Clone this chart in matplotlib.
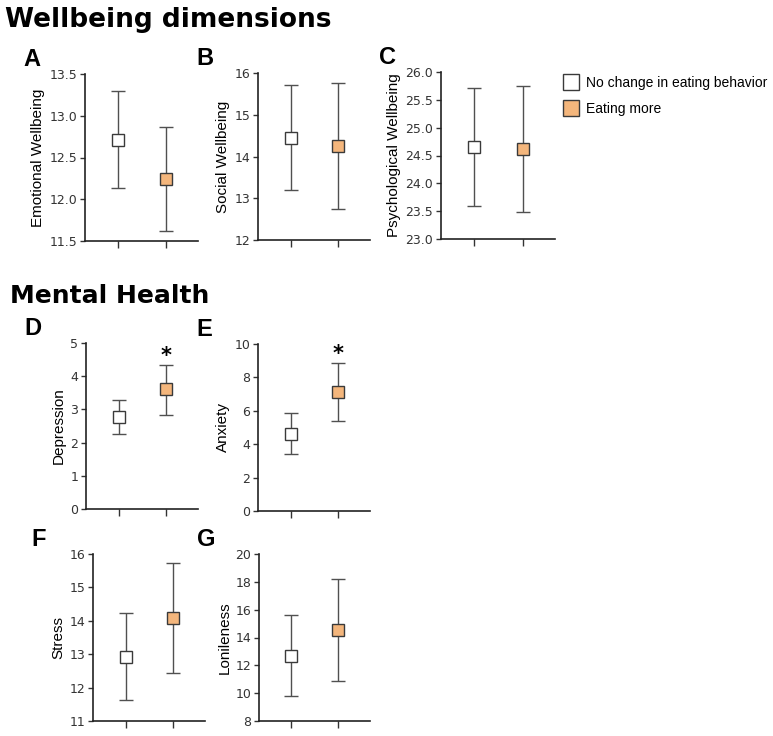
import matplotlib
matplotlib.use("Agg")
import matplotlib.pyplot as plt
from matplotlib.lines import Line2D

W, H = 773, 736

groups = ["No change in eating behavior", "Eating more"]
colors = ["#ffffff", "#f4b67c"]

panels = ["A", "B", "C", "D", "E", "F", "G"]
ylabels = ["Emotional Wellbeing", "Social Wellbeing", "Psychological Wellbeing",
           "Depression", "Anxiety", "Stress", "Lonileness"]
means = [[12.71, 12.24], [14.45, 14.26], [24.65, 24.62],
         [2.77, 3.60], [4.62, 7.12], [12.93, 14.07], [12.68, 14.55]]
lower = [[12.13, 11.62], [13.20, 12.75], [23.60, 23.48],
         [2.26, 2.84], [3.40, 5.38], [11.62, 12.44], [9.80, 10.87]]
upper = [[13.30, 12.86], [15.72, 15.77], [25.72, 25.75],
         [3.28, 4.35], [5.85, 8.88], [14.24, 15.72], [15.62, 18.22]]
ylims = [(11.5, 13.5), (12, 16), (23.0, 26.0), (0, 5), (0, 10), (11, 16), (8, 20)]
yticks = [[11.5, 12.0, 12.5, 13.0, 13.5], [12, 13, 14, 15, 16],
          [23.0, 23.5, 24.0, 24.5, 25.0, 25.5, 26.0], [0, 1, 2, 3, 4, 5],
          [0, 2, 4, 6, 8, 10], [11, 12, 13, 14, 15, 16], [8, 10, 12, 14, 16, 18, 20]]
ytickfmt = ["{:.1f}", "{:.0f}", "{:.1f}", "{:.0f}", "{:.0f}", "{:.0f}", "{:.0f}"]
significant = [[False, False]] * 3 + [[False, True], [False, True], [False, False], [False, False]]

# axes boxes in pixels: left, top, right, bottom
boxes = [(85, 74, 198, 241), (258, 73, 370, 240), (441, 72, 555, 239),
         (86, 343, 198, 509), (258, 344, 370, 511),
         (93, 554, 205, 721), (259, 554, 370, 721)]

fig = plt.figure(figsize=(W / 100, H / 100), dpi=100)

edge = "#3a3a3a"
for i, p in enumerate(panels):
    l, t, r, b = boxes[i]
    ax = fig.add_axes([l / W, 1 - b / H, (r - l) / W, (b - t) / H])
    for j in range(2):
        m = means[i][j]
        ax.errorbar([j + 1], [m], yerr=[[m - lower[i][j]], [upper[i][j] - m]],
                    fmt="s", ms=9.3, mfc=colors[j], mec=edge, mew=1.0,
                    ecolor="#505050", elinewidth=1.0, capsize=4.8, capthick=1.0,
                    zorder=3)
        if significant[i][j]:
            ax.annotate("*", (j + 1, upper[i][j]), xytext=(0, -1),
                        textcoords="offset points", ha="center", va="bottom",
                        fontsize=15, fontweight="bold", family="DejaVu Sans")
    ax.set_xlim(0.31, 2.67)
    ax.set_ylim(*ylims[i])
    ax.set_xticks([1, 2])
    ax.set_xticklabels([])
    ax.set_yticks(yticks[i])
    ax.set_yticklabels([ytickfmt[i].format(v) for v in yticks[i]],
                       family="DejaVu Sans", fontsize=9, color="#333333")
    ax.tick_params(axis="x", length=5, width=1.0, color="#333333")
    ax.tick_params(axis="y", length=3.5, width=1.0, color="#333333", pad=2)
    for s in ["top", "right"]:
        ax.spines[s].set_visible(False)
    for s in ["left", "bottom"]:
        ax.spines[s].set_linewidth(1.2)
        ax.spines[s].set_color("#222222")
    ax.set_ylabel(ylabels[i], family="Liberation Sans", fontsize=11, labelpad=3)
    fig.text((l - 62) / W, 1 - (t - 8) / H, p, family="Liberation Sans",
             fontsize=17, fontweight="bold", va="baseline", ha="left")
    if p == "C":
        handles = [Line2D([], [], ls="none", marker="s", ms=11, mfc=colors[k],
                          mec=edge, mew=1.0) for k in range(2)]
        fig.legend(handles, groups, loc="upper left",
                   bbox_to_anchor=(564 / W, 1 - 76 / H), frameon=False,
                   prop={"family": "Liberation Sans", "size": 10},
                   handlelength=1.0, handletextpad=0.6, labelspacing=0.85,
                   borderaxespad=0, borderpad=0)

fig.text(5 / W, 1 - 27 / H, "Wellbeing dimensions", family="DejaVu Sans",
         fontsize=19, fontweight="bold", va="baseline")
fig.text(10 / W, 1 - 303 / H, "Mental Health", family="DejaVu Sans",
         fontsize=18, fontweight="bold", va="baseline")

fig.savefig("out.png", dpi=100)
